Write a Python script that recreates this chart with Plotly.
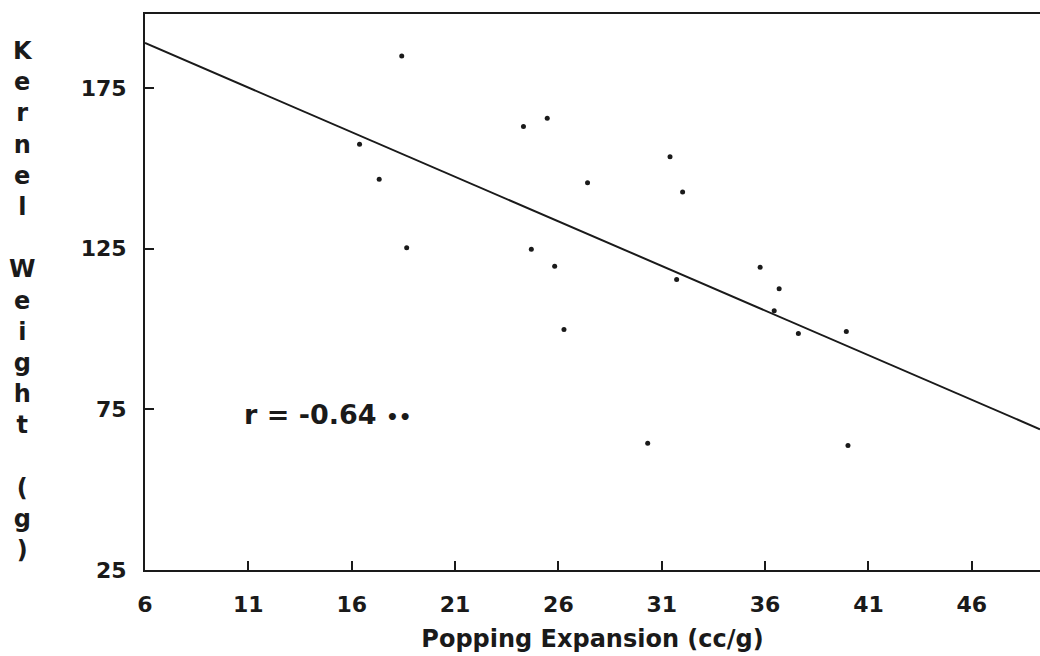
import plotly.graph_objects as go

# Data
pop_x = [18.42, 16.38, 17.33, 18.66, 24.31, 25.46, 24.69, 25.82, 27.41, 31.40,
         32.01, 31.72, 35.76, 36.68, 36.44, 26.27, 37.61, 39.93, 30.32, 40.01]
kern_y = [184.9, 157.5, 146.6, 125.3, 163.0, 165.6, 124.8, 119.5, 145.5, 153.6,
          142.6, 115.4, 119.2, 112.5, 105.7, 99.8, 98.6, 99.2, 64.4, 63.7]
fit_x = [6.0, 49.3]
fit_y = [189.0, 68.8]
x_ticks = [6, 11, 16, 21, 26, 31, 36, 41, 46]
y_ticks = [25, 75, 125, 175]
y_title_letters = ["K", "e", "r", "n", "e", "l", "", "W", "e", "i", "g", "h", "t", "", "(", "g", ")"]
r_label = "r = -0.64"
r_stars = "••"

FONT = "DejaVu Sans"
INK = "#1a1a1a"

fig = go.Figure()
fig.add_trace(go.Scatter(x=fit_x, y=fit_y, mode="lines",
                         line=dict(color=INK, width=2), hoverinfo="skip"))
fig.add_trace(go.Scatter(x=pop_x, y=kern_y, mode="markers",
                         marker=dict(color=INK, size=5)))

fig.add_annotation(x=10.68, y=73.4, xref="x", yref="y",
                   text="<b>" + r_label + " <span style='font-size:20px'>" + r_stars + "</span></b>",
                   showarrow=False, xanchor="left", yanchor="middle",
                   font=dict(family=FONT, size=27, color=INK))

fig.add_annotation(x=-0.137, y=0.962, xref="paper", yref="paper",
                   text="<br>".join("<b>" + c + "</b>" if c else " " for c in y_title_letters),
                   showarrow=False, xanchor="center", yanchor="top",
                   font=dict(family=FONT, size=24, color=INK, weight="bold"))

tick_font = dict(family=FONT, size=22, color=INK, weight="bold")

fig.update_layout(
    width=1040, height=656,
    margin=dict(l=145, r=0, t=14, b=86),
    paper_bgcolor="white", plot_bgcolor="white",
    showlegend=False,
    xaxis=dict(range=[6, 49.3], tickvals=x_ticks, ticktext=[str(v) for v in x_ticks],
               showline=True, linecolor=INK, linewidth=2, mirror=True,
               ticks="inside", ticklen=9, tickwidth=2, tickcolor=INK,
               showgrid=False, zeroline=False, ticklabelstandoff=14,
               tickfont=tick_font,
               title=dict(text="Popping Expansion (cc/g)", standoff=14,
                          font=dict(family=FONT, size=24, color=INK, weight="bold"))),
    yaxis=dict(range=[25, 198], tickvals=y_ticks, ticktext=[str(v) for v in y_ticks],
               showline=True, linecolor=INK, linewidth=2,
               ticks="inside", ticklen=9, tickwidth=2, tickcolor=INK,
               showgrid=False, zeroline=False, ticklabelstandoff=12,
               tickfont=tick_font),
)

fig.write_html("out.html")
